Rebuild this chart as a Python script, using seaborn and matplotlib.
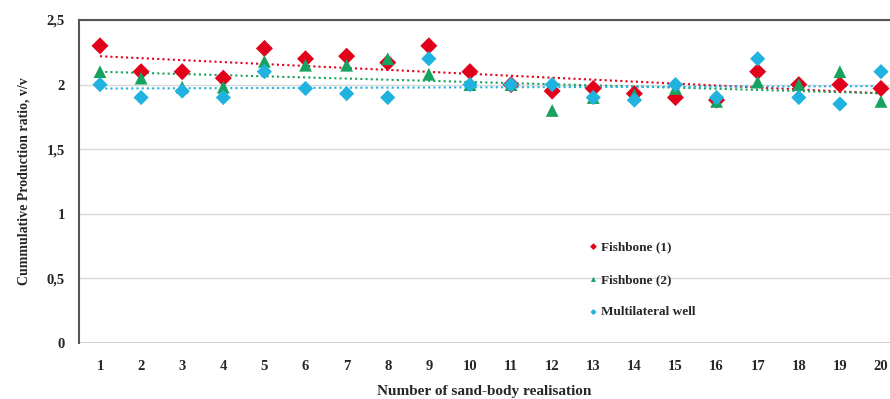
import numpy as np
import pandas as pd
import matplotlib
matplotlib.use("Agg")
import matplotlib.pyplot as plt
import seaborn as sns

realisation = list(range(1, 21))
fishbone1 = [2.30, 2.10, 2.10, 2.05, 2.28, 2.20, 2.22, 2.17, 2.30, 2.10,
             2.00, 1.95, 1.97, 1.93, 1.90, 1.88, 2.10, 2.00, 2.00, 1.97]
fishbone2 = [2.10, 2.05, 1.98, 1.98, 2.18, 2.15, 2.15, 2.20, 2.08, 2.00,
             2.00, 1.80, 1.90, 1.92, 1.97, 1.87, 2.02, 2.00, 2.10, 1.87]
multilateral = [2.00, 1.90, 1.95, 1.90, 2.10, 1.97, 1.93, 1.90, 2.20, 2.00,
                2.00, 2.00, 1.90, 1.88, 2.00, 1.90, 2.20, 1.90, 1.85, 2.10]
series_names = ["Fishbone (1)", "Fishbone (2)", "Multilateral well"]
ytick_values = [0, 0.5, 1, 1.5, 2, 2.5]
ytick_labels = ["0", "0,5", "1", "1,5", "2", "2,5"]

colors = ["#e3001b", "#17a35f", "#21b3e0"]
markers = ["D", "^", "D"]

df = pd.DataFrame({"x": realisation * 3,
                   "y": fishbone1 + fishbone2 + multilateral,
                   "series": [series_names[0]] * 20 + [series_names[1]] * 20 + [series_names[2]] * 20})

sns.set_style("white")
plt.rcParams["font.family"] = ["Liberation Serif", "DejaVu Serif"]

fig = plt.figure(figsize=(8.9, 3.99), dpi=100)
ax = fig.add_axes([79 / 890, 1 - 343 / 399, 1 - 79 / 890, (343 - 20) / 399])

for y_val in ytick_values[1:]:
    ax.axhline(y_val, color="#d9d9d9", lw=1, zorder=0)
ax.axhline(0, color="#d0d0d0", lw=1.5, zorder=0)

for name, c in zip(series_names, colors):
    sub = df[df.series == name]
    sns.regplot(data=sub, x="x", y="y", ax=ax, scatter=False, ci=None, truncate=True,
                line_kws=dict(color=c, lw=1.5, ls=(0, (1, 1.5)), zorder=1))

sizes = [75, 85, 60]
for name, c, m, s in zip(series_names, colors, markers, sizes):
    sub = df[df.series == name]
    sns.scatterplot(data=sub, x="x", y="y", ax=ax, color=c, marker=m, s=s,
                    edgecolor="none", label=name, zorder=3)

ax.set_xlim(1 - 21 / 41.1, 20 + 9 / 41.1)
ax.set_ylim(0, 2.5)
ax.set_xticks(realisation)
ax.set_xticklabels([str(v) for v in realisation], fontweight="bold", fontsize=10.5)
ax.set_yticks(ytick_values)
ax.set_yticklabels(ytick_labels, fontweight="bold", fontsize=10.5)
ax.tick_params(axis="both", length=0, pad=12)
ax.tick_params(axis="y", pad=10)

for side in ["left", "top"]:
    ax.spines[side].set_color("#555555")
    ax.spines[side].set_linewidth(1.5)
ax.spines["right"].set_visible(False)
ax.spines["bottom"].set_visible(False)

ax.set_xlabel("Number of sand-body realisation", fontweight="bold", fontsize=11, labelpad=9)
ax.set_ylabel("Cummulative Production ratio, v/v", fontweight="bold", fontsize=10, labelpad=12)

handles, labels = ax.get_legend_handles_labels()
leg = ax.legend(handles, labels, loc="upper left", bbox_to_anchor=((575 - 79) / 811, (343 - 229) / 323),
                frameon=False, markerscale=0.4, handletextpad=0.1, labelspacing=1.55,
                prop=dict(weight="bold", size=9.5), handlelength=1)

fig.savefig("out.png", dpi=100)
